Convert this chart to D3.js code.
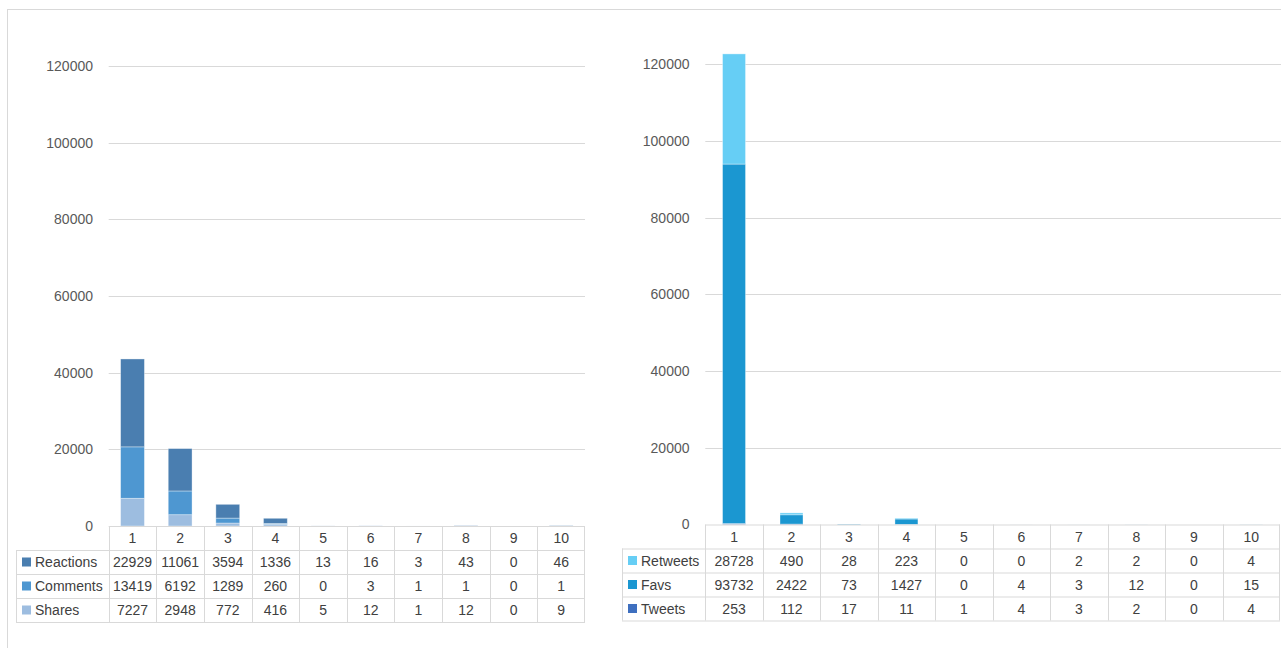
<!DOCTYPE html>
<html><head><meta charset="utf-8">
<script src="https://cdn.jsdelivr.net/npm/d3@7"></script>
<style>
html,body{margin:0;padding:0;background:#fff;}
svg{display:block;font-family:"Liberation Sans",Arial,sans-serif;}
</style></head>
<body>
<svg id="chart" width="1281" height="648"></svg>
<script>
// ---- data ----
const categories = ["1","2","3","4","5","6","7","8","9","10"];
const yTicks = [0,20000,40000,60000,80000,100000,120000];

const fbSeriesNames = ["Reactions","Comments","Shares"];     // table order (top to bottom)
const fbReactions = [22929,11061,3594,1336,13,16,3,43,0,46];
const fbComments  = [13419,6192,1289,260,0,3,1,1,0,1];
const fbShares    = [7227,2948,772,416,5,12,1,12,0,9];

const twSeriesNames = ["Retweets","Favs","Tweets"];
const twRetweets = [28728,490,28,223,0,0,2,2,0,4];
const twFavs     = [93732,2422,73,1427,0,4,3,12,0,15];
const twTweets   = [253,112,17,11,1,4,3,2,0,4];

const svg = d3.select("#chart");
const grid = "#d9d9d9";

// outer frame
svg.append("rect").attr("x",7.5).attr("y",9.5).attr("width",1300).attr("height",700)
  .attr("fill","none").attr("stroke",grid).attr("stroke-width",1);

function drawChart(cfg){
  const g = svg.append("g");
  const x = d3.scaleBand().domain(categories).range([cfg.x0, cfg.x1]).padding(0);
  const y = d3.scaleLinear().domain([0,120000]).range([cfg.zero, cfg.top]);

  // gridlines
  g.selectAll("line.grid").data(yTicks.filter(t=>t>0)).join("line")
    .attr("x1",cfg.x0).attr("x2",cfg.gridEnd)
    .attr("y1",d=>Math.round(y(d))+0.5).attr("y2",d=>Math.round(y(d))+0.5)
    .attr("stroke",grid).attr("stroke-width",1);

  // axis via d3.axisLeft
  const ax = g.append("g").attr("transform",`translate(${cfg.labelX},0)`)
    .call(d3.axisLeft(y).tickValues(yTicks).tickSize(0).tickPadding(0).tickFormat(d3.format("d")));
  ax.select(".domain").remove();
  ax.selectAll("text").attr("fill","#595959").style("font-size","14px")
    .style("font-family","'Liberation Sans',Arial,sans-serif");

  // stacked bars (bottom -> top order given by cfg.stackKeys)
  const rows = categories.map((c,i)=>{
    const o={cat:c};
    cfg.stackKeys.forEach((k,j)=>o[k]=cfg.stackVals[j][i]);
    return o;
  });
  const stack = d3.stack().keys(cfg.stackKeys)(rows);
  const bw = x.bandwidth()*cfg.barFrac;
  const off = x.bandwidth()*cfg.barOff;
  g.selectAll("g.layer").data(stack).join("g")
    .attr("fill",d=>cfg.colors[d.key])
    .selectAll("rect").data(d=>d).join("rect")
    .attr("x",d=>x(d.data.cat)+off)
    .attr("width",bw)
    .attr("y",d=>y(d[1]))
    .attr("height",d=>Math.max(0,y(d[0])-y(d[1])))
    .attr("stroke",d=>(y(d[0])-y(d[1]))>0.5?"rgba(255,255,255,0.45)":"none")
    .attr("stroke-width",0.8);

  // data table
  const t = g.append("g");
  const rowH = cfg.rowH;
  const tTop = cfg.zero;
  const nRows = cfg.tableNames.length;
  const lineAttr = sel=>sel.attr("stroke",grid).attr("stroke-width",1).attr("fill","none");
  // header row horizontal lines
  t.append("line").call(lineAttr).attr("x1",cfg.x0).attr("x2",cfg.x1).attr("y1",tTop+0.5).attr("y2",tTop+0.5);
  for(let r=1;r<=nRows+1;r++){
    t.append("line").call(lineAttr).attr("x1",cfg.legX).attr("x2",cfg.x1)
      .attr("y1",tTop+r*rowH+0.5).attr("y2",tTop+r*rowH+0.5);
  }
  // vertical lines
  t.append("line").call(lineAttr).attr("x1",cfg.legX+0.5).attr("x2",cfg.legX+0.5)
    .attr("y1",tTop+rowH).attr("y2",tTop+(nRows+1)*rowH);
  categories.forEach(c=>{
    const xx = Math.round(x(c))+0.5;
    t.append("line").call(lineAttr).attr("x1",xx).attr("x2",xx).attr("y1",tTop).attr("y2",tTop+(nRows+1)*rowH);
  });
  t.append("line").call(lineAttr).attr("x1",cfg.x1-0.5).attr("x2",cfg.x1-0.5).attr("y1",tTop).attr("y2",tTop+(nRows+1)*rowH);

  // header labels
  t.selectAll("text.hdr").data(categories).join("text")
    .attr("x",d=>x(d)+x.bandwidth()/2).attr("y",tTop+rowH/2).attr("dy","0.36em")
    .attr("text-anchor","middle").attr("fill","#404040").style("font-size","14px").text(d=>d);

  cfg.tableNames.forEach((name,r)=>{
    const cy = tTop+(r+1)*rowH+rowH/2;
    t.append("rect").attr("x",cfg.legX+6).attr("y",cy-4.5).attr("width",9).attr("height",9)
      .attr("fill",cfg.colors[name]);
    t.append("text").attr("x",cfg.legX+19).attr("y",cy).attr("dy","0.36em")
      .attr("fill","#404040").style("font-size","14px").text(name);
    t.selectAll(null).data(cfg.tableVals[r]).join("text")
      .attr("x",(d,i)=>x(categories[i])+x.bandwidth()/2).attr("y",cy).attr("dy","0.36em")
      .attr("text-anchor","middle").attr("fill","#404040").style("font-size","14px").text(d=>d);
  });
}

drawChart({
  x0:108.7, x1:585, gridEnd:585, zero:526, top:66, labelX:93, legX:16, rowH:24,
  barFrac:0.5, barOff:0.25,
  stackKeys:["Shares","Comments","Reactions"],
  stackVals:[fbShares,fbComments,fbReactions],
  tableNames:fbSeriesNames,
  tableVals:[fbReactions,fbComments,fbShares],
  colors:{Reactions:"#4a7eb0",Comments:"#4e97d1",Shares:"#9dbde0"}
});

drawChart({
  x0:705.3, x1:1280, gridEnd:1281, zero:524.5, top:64.3, labelX:689.5, legX:622, rowH:24,
  barFrac:0.4, barOff:0.3,
  stackKeys:["Tweets","Favs","Retweets"],
  stackVals:[twTweets,twFavs,twRetweets],
  tableNames:twSeriesNames,
  tableVals:[twRetweets,twFavs,twTweets],
  colors:{Retweets:"#66cef5",Favs:"#1b97d1",Tweets:"#3e6fbf"}
});
</script>
</body></html>
